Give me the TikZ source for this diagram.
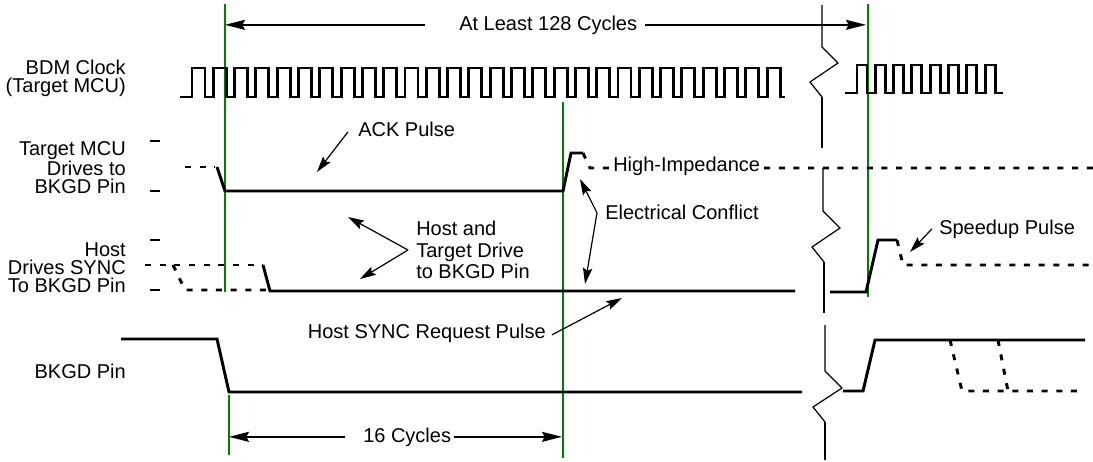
\documentclass[tikz,border=0pt]{standalone}
\usepackage{fontspec}
\setmainfont{Liberation Sans}
\usepackage{tikz}
\usetikzlibrary{positioning,arrows.meta,calc}
\definecolor{guidegreen}{RGB}{0,128,0}
\tikzset{
  sig/.style={line width=2.2pt},
  hiz/.style={line width=2.2pt, dash pattern=on 4.5pt off 6.5pt},
  guide/.style={guidegreen, line width=1.4pt},
  brk/.style={line width=0.9pt},
  brkthick/.style={line width=2pt},
  lvl/.style={line width=1.5pt},
  callout/.style={line width=0.9pt, -{Stealth[length=12pt,width=7pt,inset=2pt]}},
  dim/.style={line width=1.1pt, -{Stealth[length=15pt,width=7.5pt,inset=2pt]}},
  lbl/.style={font=\fontsize{15pt}{13.5pt}\selectfont, inner sep=0pt},
}

\begin{document}
\begin{tikzpicture}[x=0.75pt,y=-0.75pt]
  \useasboundingbox (0,0) rectangle (1093,461);

  % row labels
  \node[lbl, anchor=east, align=right] (clklbl) at (126,78) {BDM Clock\\(Target MCU)};
  \node[lbl, anchor=east, align=right] (tgtlbl) at (126,168) {Target MCU\\Drives to\\BKGD Pin};
  \node[lbl, anchor=east, align=right] (hostlbl) at (126,268) {Host\\Drives SYNC\\To BKGD Pin};
  \node[lbl, anchor=base east] (pinlbl) at (126,378) {BKGD Pin};
  \foreach \ty in {141,191,240,290}
    \draw[lvl] (150,\ty) -- (160,\ty);

  % green reference lines
  \draw[guide] (225,4) -- (225,292);
  \draw[guide] (229,395) -- (229,455);
  \draw[guide] (563,102) -- (563,458);
  \draw[guide] (868,4) -- (868,297);
  \coordinate (t128a) at (225,24);
  \coordinate (t128b) at (866,24);
  \coordinate (c16a) at (229,438);
  \coordinate (c16b) at (562,438);

  % BDM clock
  \draw[sig] (180,97) foreach \k in {0,...,27} {
    -- ({192+21.3*\k},97) -- ++(0,-29) -- ++(13,0) -- ++(0,29) } -- (785,97);
  \draw[sig] (845,93) foreach \k in {0,...,7} {
    -- ({857+18.3*\k},93) -- ++(0,-28) -- ++(10,0) -- ++(0,28) } -- (1003,93);

  % target MCU
  \draw[hiz] (185,167) -- (215,167);
  \draw[sig] (217,167) -- (225,191) -- (563,191) -- (571,153) -- (583,153);
  \draw[hiz] (583,153) -- (590,168) -- (1093,168);
  \node[lbl, anchor=base west, fill=white, inner sep=3pt] (hiztext) at (609,171) {High-Impedance};

  % host
  \draw[hiz] (145,265) -- (263,265);
  \draw[hiz] (173,265) -- (185,290) -- (268,290);
  \draw[sig] (263,265) -- (270,291) -- (795,291);
  \draw[sig] (830,292) -- (866,292) -- (878,240) -- (897,240);
  \draw[hiz] (897,240) -- (903,265) -- (1093,265);

  % BKGD pin
  \draw[sig] (121,339) -- (217,339) -- (229,392) -- (802,392);
  \draw[sig] (843,391) -- (863,391) -- (875,340) -- (1085,340);
  \draw[hiz] (950,340) -- (962,391) -- (1085,391);
  \draw[hiz] (998,340) -- (1008,391);

  % time breaks
  \draw[brk] (822,5) -- (822,47) -- (838,63) -- (810,82) -- (822,97);
  \draw[brkthick] (822,97) -- (822,148);
  \draw[brk] (823,168) -- (823,211) -- (840,228) -- (812,247) -- (824,262);
  \draw[brkthick] (824,262) -- (824,313);
  \draw[brk] (825,325) -- (825,371) -- (842,388) -- (813,407) -- (825,422);
  \draw[brkthick] (825,422) -- (825,460);

  % dimensions
  \node[lbl, anchor=base west] (atleast) at (459,30) {At Least 128 Cycles};
  \draw[dim] ($(atleast.west)+(-34,0)$) -- (atleast.west -| t128a);
  \draw[dim] ($(atleast.east)+(8,0)$) -- (atleast.east -| t128b);
  \node[lbl, anchor=base west] (sixteen) at (363,442) {16 Cycles};
  \draw[dim] ($(sixteen.west)+(-18,0)$) -- (sixteen.west -| c16a);
  \draw[dim] ($(sixteen.east)+(3,0)$) -- (sixteen.east -| c16b);

  % callouts
  \node[lbl, anchor=base west] (ack) at (358,136) {ACK Pulse};
  \coordinate (ackto) at (317,172);
  \draw[callout] ($(ack.west)+(-10,3)$) -- (ackto);

  \node[lbl, anchor=west, align=left, font=\fontsize{15pt}{16pt}\selectfont] (both) at (416,250) {Host and\\Target Drive\\to BKGD Pin};
  \coordinate (bothv) at ($(both.west)+(-8,0)$);
  \coordinate (bothup) at (348,217);
  \coordinate (bothdn) at (360,279);
  \draw[callout] (bothv) -- (bothup);
  \draw[callout] (bothv) -- (bothdn);

  \node[lbl, anchor=base west] (conflict) at (605,219) {Electrical Conflict};
  \coordinate (confv) at ($(conflict.west)+(-8,1)$);
  \coordinate (confup) at (580,179);
  \coordinate (confdn) at (585,284);
  \draw[callout] (confv) -- (confup);
  \draw[callout] (confv) -- (confdn);

  \node[lbl, anchor=base east] (syncreq) at (546,338) {Host SYNC Request Pulse};
  \coordinate (syncto) at (622,298);
  \draw[callout] ($(syncreq.east)+(6,2)$) -- (syncto);

  \node[lbl, anchor=base west] (speedup) at (939,234) {Speedup Pulse};
  \coordinate (speedto) at (910,252);
  \draw[callout] ($(speedup.west)+(-7,0)$) -- (speedto);
\end{tikzpicture}
\end{document}
